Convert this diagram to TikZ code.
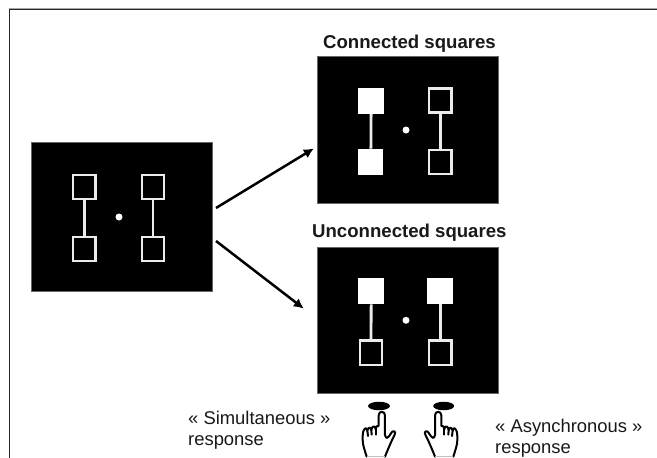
\documentclass[tikz,border=0pt]{standalone}
\usepackage{fontspec}
\setmainfont{Liberation Sans}
\usetikzlibrary{arrows.meta,shapes.geometric}
\definecolor{inkc}{gray}{0.1}
\tikzset{
  panel/.style={fill=black,draw=black!60,line width=0.6pt,inner sep=0pt,minimum width=#1},
  panelh/.style={minimum height=#1},
  sq/.style={draw=white!92!black,line width=2.4pt,fill=black,inner sep=0pt,minimum width=22.3pt,minimum height=24.2pt},
  full/.style={fill=white,inner sep=0pt,minimum width=25.8pt,minimum height=26.4pt},
  link/.style={draw=white!92!black,line width=2.8pt},
  fix/.style={circle,fill=white,inner sep=0pt,minimum size=7pt},
  arrowline/.style={draw=black,line width=2.5pt,-{Latex[length=10pt,width=10pt]},shorten >=-1pt},
  head/.style={anchor=base west,font=\bfseries\fontsize{18.6}{18.6}\selectfont,text=inkc,inner sep=0pt},
  body/.style={anchor=base west,font=\fontsize{18.4}{18.4}\selectfont,text=inkc,inner sep=0pt},
  hand/.style={draw=black,line width=2pt,line join=round,line cap=round},
  button/.style={ellipse,fill=black,inner sep=0pt},
}
\newcommand{\handpath}{
  \draw[hand] (80,200) .. controls (74,180) and (68,165) .. (68,150)
     .. controls (68,135) and (68,125) .. (72,120)
     .. controls (76,112) and (80,114) .. (82,122)
     .. controls (84,112) and (92,110) .. (94,120)
     .. controls (96,106) and (106,106) .. (107,118)
     .. controls (108,108) and (114,106) .. (116,108)
     -- (116,76) .. controls (116,62) and (135,62) .. (135,76)
     -- (135,135) .. controls (138,146) and (142,146) .. (146,140)
     -- (156,126) .. controls (162,120) and (168,126) .. (164,134)
     .. controls (155,152) and (146,172) .. (135,200);
  \draw[hand] (82,122) -- (84,138);
  \draw[hand] (94,120) -- (95,134);
  \draw[hand] (107,118) -- (107,134);
  \draw[draw=black!25,line width=1pt] (80,200) -- (135,200);
}
\begin{document}
\begin{tikzpicture}[x=1pt,y=-1pt]
\useasboundingbox (0,0) rectangle (657,458);
\fill[white] (0,0) rectangle (657,458);
% frame
\draw[black!35,line width=1pt] (9,8.6) -- (657,8.6);
\draw[black!85,line width=1.3pt] (9.5,458) -- (9.5,9.6) -- (657,9.6);
% panels
\node[panel=181pt,panelh=149pt] (pa) at (121.5,216.5) {};
\node[panel=181pt,panelh=147pt] (pb) at (407.5,129.5) {};
\node[panel=181pt,panelh=146pt] (pc) at (407.5,320) {};
% left panel
\node[sq] (a1) at (84.3,187) {};
\node[sq] (a2) at (84.3,249) {};
\node[sq] (a3) at (153,187) {};
\node[sq] (a4) at (153,249) {};
\draw[link] (a1) -- (a2);
\draw[link] (a3) -- (a4);
\node[fix] (af) at (119,217) {};
% top panel
\node[full] (b1) at (371.2,100.7) {};
\node[full,minimum height=26.4pt,minimum width=25pt] (b2) at (370.8,162) {};
\node[sq] (b3) at (440.2,100.4) {};
\node[sq] (b4) at (440.2,162) {};
\draw[link] (b1) -- (b2);
\draw[link] (b3) -- (b4);
\node[fix] (bf) at (406,130) {};
% bottom panel
\node[full] (c1) at (371.2,291) {};
\node[full] (c3) at (440.2,291) {};
\node[sq] (c2) at (371,352.7) {};
\node[sq] (c4) at (440.2,352.7) {};
\draw[link] (c1) -- (c2);
\draw[link] (c3) -- (c4);
\node[fix] (cf) at (406,320.3) {};
% arrows
\coordinate (s1) at (216,208);
\coordinate (e1) at (313,149);
\coordinate (s2) at (216,241);
\coordinate (e2) at (303,308);
\draw[arrowline] (s1) -- (e1);
\draw[arrowline] (s2) -- (e2);
% titles
\node[head] (t1) at (323,48.3) {Connected squares};
\node[head] (t2) at (312,237.6) {Unconnected squares};
% responses
\node[body] (r1) at (188,424) {« Simultaneous »};
\node[body] (r2) at (188,445) {response};
\node[body] (r3) at (495,432) {« Asynchronous »};
\node[body] (r4) at (495,453) {response};
% buttons
\node[button,minimum width=22pt,minimum height=8.5pt] (k1) at (379,406) {};
\node[button,minimum width=21pt,minimum height=8.5pt] (k2) at (443.7,406) {};
% hands
\begin{scope}[shift={(340,390)},x=0.3333pt,y=-0.3333pt]
\handpath
\end{scope}
\begin{scope}[shift={(480,390)},x=-0.3333pt,y=-0.3333pt]
\handpath
\end{scope}
\end{tikzpicture}
\end{document}
